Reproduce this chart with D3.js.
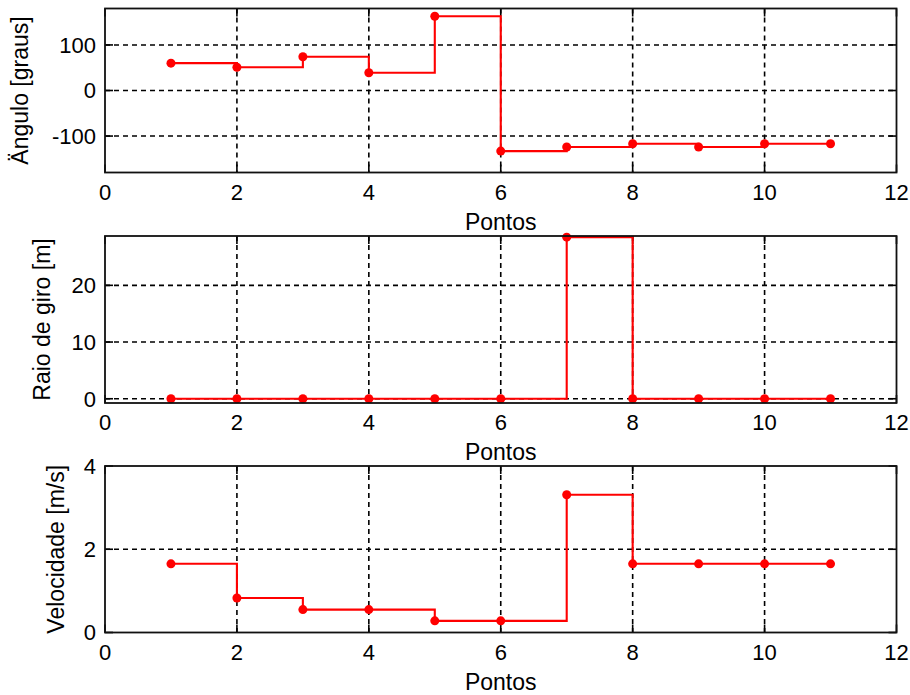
<!DOCTYPE html>
<html>
<head>
<meta charset="utf-8">
<script src="https://cdn.jsdelivr.net/npm/d3@7"></script>
<style>
  body { margin: 0; background: #ffffff; }
  text { font-family: "Liberation Sans", Arial, sans-serif; fill: #000; }
</style>
</head>
<body>
<div id="chart"></div>
<script>
// dados
const pontos = [1, 2, 3, 4, 5, 6, 7, 8, 9, 10, 11];
const angulo = [60, 51, 74, 39, 163, -133, -124, -117, -124, -117, -117];
const raio = [0, 0, 0, 0, 0, 0, 28.5, 0, 0, 0, 0];
const velocidade = [1.65, 0.83, 0.55, 0.55, 0.28, 0.28, 3.31, 1.65, 1.65, 1.65, 1.65];

const xTicks = [0, 2, 4, 6, 8, 10, 12];
const anguloTicks = [-100, 0, 100];
const raioTicks = [0, 10, 20];
const velocidadeTicks = [0, 2, 4];

const width = 910;
const height = 695;
const left = 105, right = 896.5;

const panels = [
  { values: angulo, ticks: anguloTicks, domain: [-180, 180], top: 8.5, bottom: 172.5, label: "Ängulo [graus]", labelX: 28 },
  { values: raio, ticks: raioTicks, domain: [-0.75, 28.7], top: 236, bottom: 403, label: "Raio de giro [m]", labelX: 50 },
  { values: velocidade, ticks: velocidadeTicks, domain: [0, 4], top: 466, bottom: 632.5, label: "Velocidade [m/s]", labelX: 64 }
];

const svg = d3.select("#chart").append("svg").attr("width", width).attr("height", height);

const x = d3.scaleLinear().domain([0, 12]).range([left, right]);
const tickLen = 8;

panels.forEach(p => {
  const y = d3.scaleLinear().domain(p.domain).range([p.bottom, p.top]);
  const g = svg.append("g");

  g.append("rect").attr("x", left).attr("y", p.top).attr("width", right - left).attr("height", p.bottom - p.top).attr("fill", "#fff");

  // grade tracejada
  g.selectAll(".gx").data(xTicks.filter(t => t > 0 && t < 12)).join("line")
    .attr("x1", d => x(d)).attr("x2", d => x(d)).attr("y1", p.top).attr("y2", p.bottom)
    .attr("stroke", "#000").attr("stroke-width", 1.6).attr("stroke-dasharray", "5,4");
  g.selectAll(".gy").data(p.ticks.filter(t => y(t) > p.top + 1 && y(t) < p.bottom - 1)).join("line")
    .attr("x1", left).attr("x2", right).attr("y1", d => y(d)).attr("y2", d => y(d))
    .attr("stroke", "#000").attr("stroke-width", 1.6).attr("stroke-dasharray", "5,4");

  // ticks internos (todas as bordas)
  xTicks.forEach(t => {
    g.append("line").attr("x1", x(t)).attr("x2", x(t)).attr("y1", p.bottom).attr("y2", p.bottom - tickLen).attr("stroke", "#000").attr("stroke-width", 1.6);
    g.append("line").attr("x1", x(t)).attr("x2", x(t)).attr("y1", p.top).attr("y2", p.top + tickLen).attr("stroke", "#000").attr("stroke-width", 1.6);
  });
  p.ticks.forEach(t => {
    g.append("line").attr("x1", left).attr("x2", left + tickLen).attr("y1", y(t)).attr("y2", y(t)).attr("stroke", "#000").attr("stroke-width", 1.6);
    g.append("line").attr("x1", right).attr("x2", right - tickLen).attr("y1", y(t)).attr("y2", y(t)).attr("stroke", "#000").attr("stroke-width", 1.6);
  });

  // serie em degraus
  const pts = pontos.map((px, i) => [px, p.values[i]]);
  const line = d3.line().x(d => x(d[0])).y(d => y(d[1])).curve(d3.curveStepAfter);
  g.append("path").attr("d", line(pts)).attr("fill", "none").attr("stroke", "#ff0000").attr("stroke-width", 2.1);
  g.selectAll(".pt").data(pts).join("circle")
    .attr("cx", d => x(d[0])).attr("cy", d => y(d[1])).attr("r", 4.5).attr("fill", "#ff0000");

  // caixa
  g.append("rect").attr("x", left).attr("y", p.top).attr("width", right - left).attr("height", p.bottom - p.top)
    .attr("fill", "none").attr("stroke", "#111").attr("stroke-width", 1.8);

  // rotulos dos ticks
  g.selectAll(".tx").data(xTicks).join("text")
    .attr("x", d => x(d)).attr("y", p.bottom + 27).attr("text-anchor", "middle")
    .style("font-size", "22px").text(d => d);
  g.selectAll(".ty").data(p.ticks).join("text")
    .attr("x", left - 9).attr("y", d => y(d)).attr("dy", "0.36em").attr("text-anchor", "end")
    .style("font-size", "22px").text(d => d);

  // rotulos dos eixos
  g.append("text").attr("x", (left + right) / 2).attr("y", p.bottom + 57).attr("text-anchor", "middle")
    .style("font-size", "23px").text("Pontos");
  g.append("text").attr("transform", `translate(${p.labelX}, ${(p.top + p.bottom) / 2}) rotate(-90)`)
    .attr("text-anchor", "middle").style("font-size", "23px").text(p.label);
});
</script>
</body>
</html>
